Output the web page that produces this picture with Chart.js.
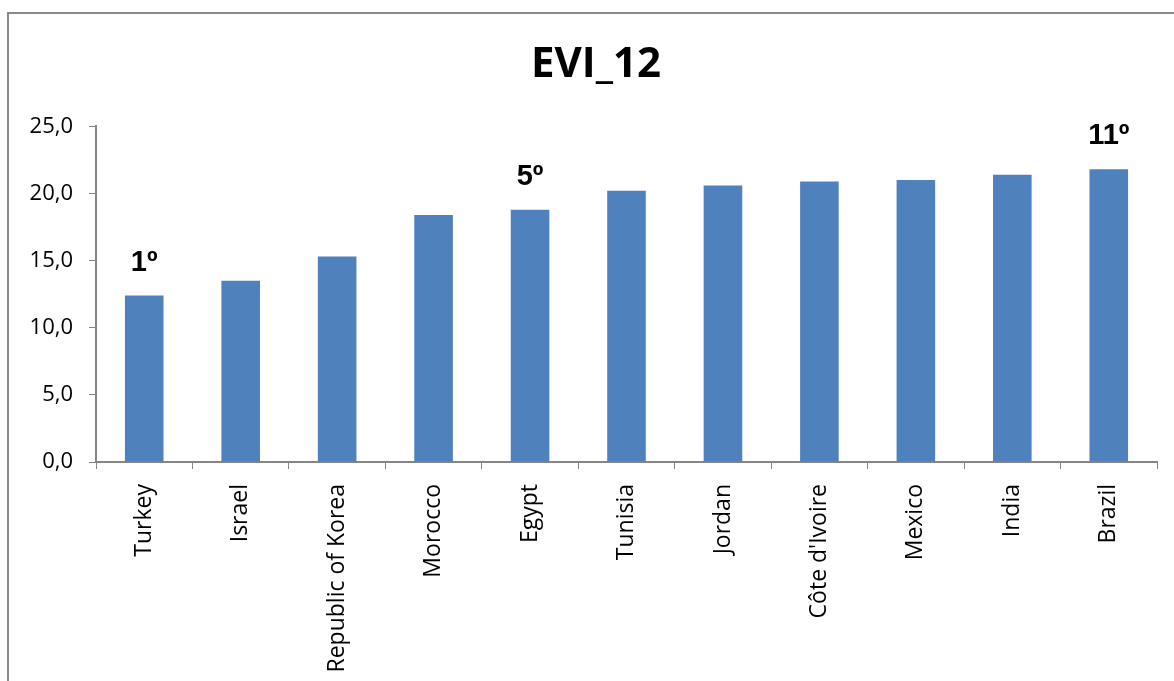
<!DOCTYPE html>
<html>
<head>
<meta charset="utf-8">
<script src="https://cdn.jsdelivr.net/npm/chart.js@4.4.1/dist/chart.umd.min.js"></script>
<style>
  html, body { margin: 0; padding: 0; background: #fff; }
  #wrap { position: relative; width: 1174px; height: 681px; overflow: hidden; }
  #frame { position: absolute; left: 7px; top: 12px; width: 1200px; height: 700px;
           border: 2px solid #8a8a8a; box-sizing: border-box; }
  #c { position: absolute; left: 0; top: 0; }
</style>
</head>
<body>
<div id="wrap">
  <div id="frame"></div>
  <canvas id="c" width="1174" height="681"></canvas>
</div>
<script>
var countries = ['Turkey', 'Israel', 'Republic of Korea', 'Morocco', 'Egypt', 'Tunisia',
                 'Jordan', "Côte d'Ivoire", 'Mexico', 'India', 'Brazil'];
var evi12 = [12.4, 13.5, 15.3, 18.4, 18.8, 20.2, 20.6, 20.9, 21.0, 21.4, 21.8];
var ranks = ['1º', '', '', '', '5º', '', '', '', '', '', '11º'];
var yTicks = [0, 5, 10, 15, 20, 25];

var FONT = "'Open Sans', 'Noto Sans', sans-serif";
var AXIS = '#868686';

// title sits centred on the outer frame, not on the canvas
var titleShift = {
  id: 'titleShift',
  afterLayout: function(chart) {
    if (chart.titleBlock) chart.titleBlock.left = 35;
  }
};

var rankLabels = {
  id: 'rankLabels',
  afterDatasetsDraw: function(chart) {
    var meta = chart.getDatasetMeta(0);
    var ctx = chart.ctx;
    ctx.save();
    ctx.font = "bold 29px 'Liberation Sans', Arial, sans-serif";
    ctx.fillStyle = '#000';
    ctx.textAlign = 'center';
    ctx.textBaseline = 'middle';
    meta.data.forEach(function(bar, i) {
      if (ranks[i]) ctx.fillText(ranks[i], bar.x, bar.y - 33);
    });
    ctx.restore();
  }
};

new Chart(document.getElementById('c'), {
  type: 'bar',
  data: {
    labels: countries,
    datasets: [{ label: 'EVI_12', data: evi12, backgroundColor: '#4f81bd',
                 borderWidth: 0, barPercentage: 0.4, categoryPercentage: 1 }]
  },
  options: {
    responsive: false, animation: false,
    layout: { padding: { left: 0, right: 17, top: 0, bottom: 0 } },
    plugins: {
      legend: { display: false },
      tooltip: { enabled: false },
      title: { display: true, text: 'EVI_12', color: '#000',
               font: { family: FONT, size: 42, weight: 'bold' },
               padding: { top: 40, bottom: 36 } }
    },
    scales: {
      y: {
        min: 0, max: 25,
        afterBuildTicks: function(s) { s.ticks = yTicks.map(function(v){ return { value: v }; }); },
        afterFit: function(s) { s.width = 96; },
        grid: { drawOnChartArea: false, drawTicks: true, tickLength: 7, color: AXIS },
        border: { display: true, color: AXIS, width: 2 },
        ticks: { color: '#000', padding: 16, font: { family: FONT, size: 22 },
                 callback: function(v) { return v.toFixed(1).replace('.', ','); } }
      },
      x: {
        afterFit: function(s) { s.height = 219; },
        grid: { drawOnChartArea: false, drawTicks: true, tickLength: 7, color: AXIS, offset: true },
        border: { display: true, color: AXIS, width: 2 },
        ticks: { color: '#000', padding: 15, minRotation: 90, maxRotation: 90, autoSkip: false,
                 font: { family: FONT, size: 23 } }
      }
    }
  },
  plugins: [titleShift, rankLabels]
});
</script>
</body>
</html>
